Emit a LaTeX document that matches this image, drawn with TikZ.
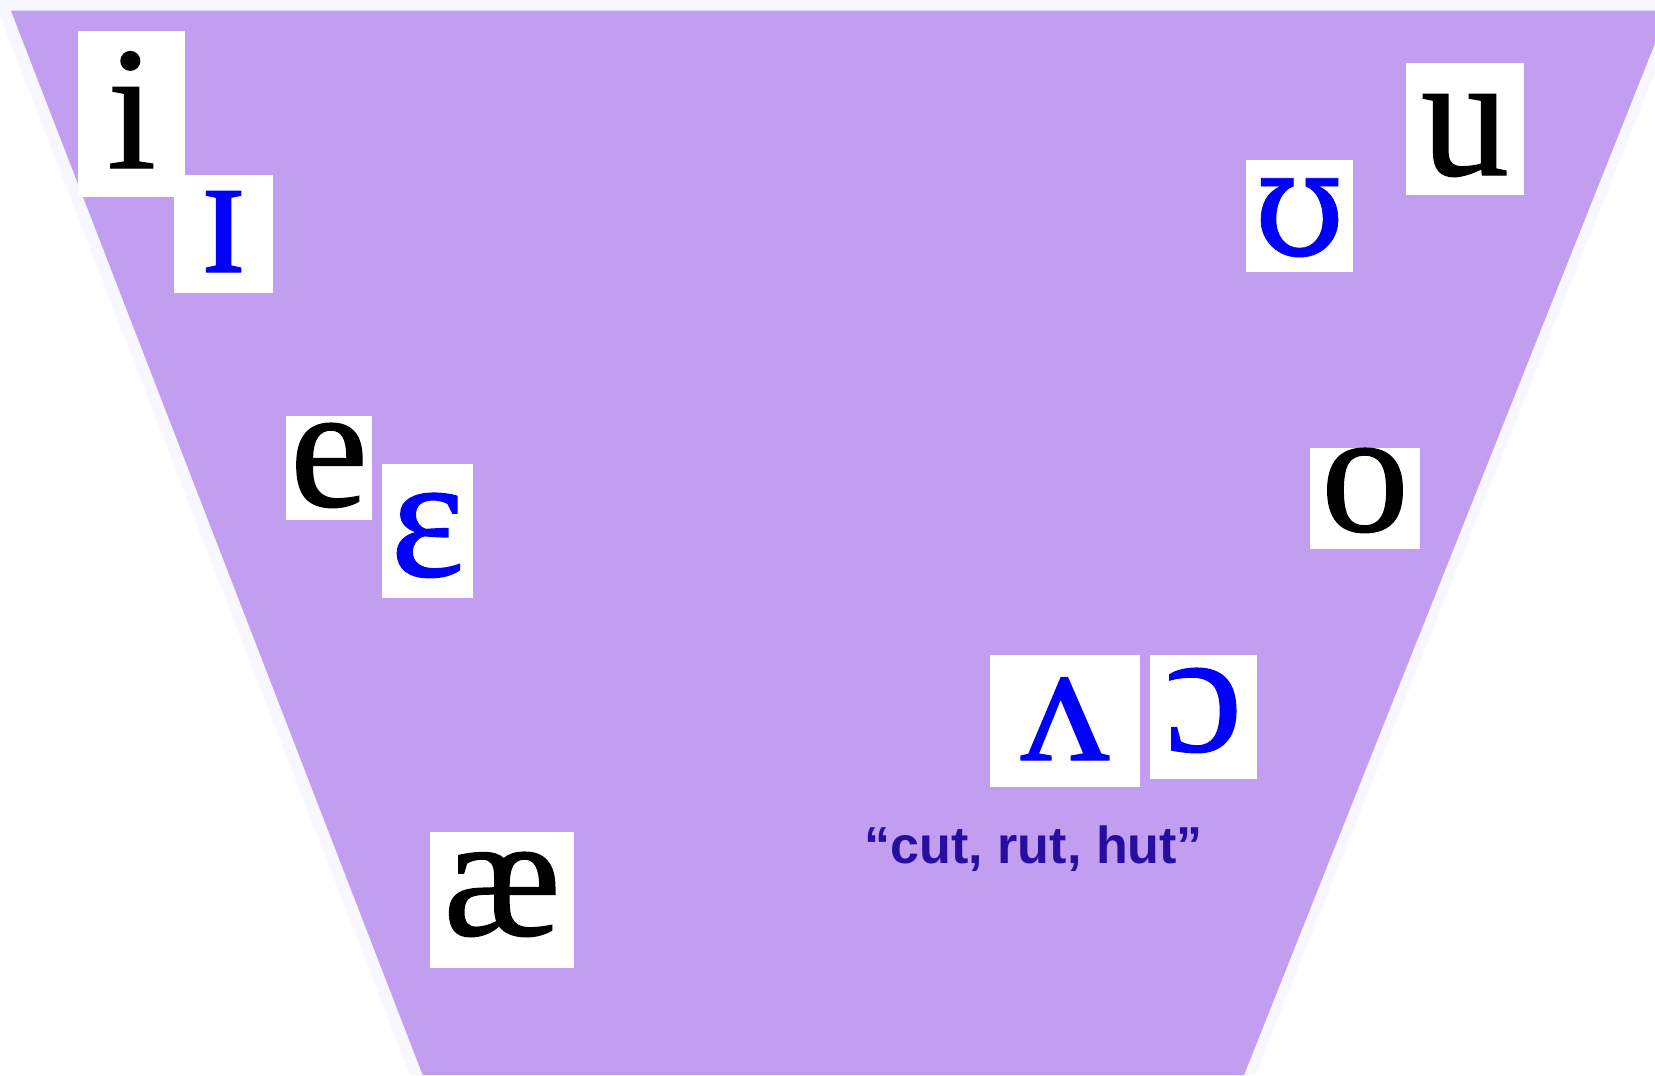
\documentclass[tikz,border=0pt]{standalone}
\usepackage{fontspec}
\setmainfont{Liberation Serif}
\setsansfont{Liberation Sans}
\newfontfamily\vowelfont[FakeBold=0.8]{Liberation Serif}
\newfontfamily\upsilonfont[FakeBold=0.5]{DejaVu Serif}
\usepackage{xcolor}
\usetikzlibrary{positioning}

\definecolor{chartpurple}{RGB}{193,158,239}
\definecolor{chartedge}{RGB}{248,246,255}
\definecolor{notecolor}{RGB}{40,14,160}
\definecolor{laxblue}{RGB}{0,0,255}

\begin{document}
\begin{tikzpicture}[
      x=0.01cm, y=-0.01cm,
      vowel/.style={rectangle, fill=white, inner sep=0pt, anchor=base, font=\vowelfont\fontsize{50}{50}\selectfont, text centered},
      tense/.style={vowel, text=black},
      lax/.style={vowel, text=laxblue},
      note/.style={anchor=base west, inner sep=0pt, text=notecolor, font=\sffamily\bfseries\fontsize{14.8}{16}\selectfont}
  ]
      \useasboundingbox (0,0) rectangle (1655,1075);
      \clip (0,0) rectangle (1655,1075);

      % Vowel space
      \fill[chartedge] (-6,0) -- (1684,0) -- (1255,1075) -- (410,1075) -- cycle;
      \fill[chartpurple] (11,10.7) -- (1668,10.7) -- (1244,1075) -- (422.7,1075) -- cycle;

      % Front vowels
      \node[tense, minimum width=1.07cm, text height=1.37cm, text depth=0.29cm] (i) at (131.5,168) {i};
      \node[lax, minimum width=0.99cm, text height=0.97cm, text depth=0.21cm] (I) at (223.5,272) {ɪ};
      \node[tense, minimum width=0.86cm, text height=0.90cm, text depth=0.14cm] (e) at (329,506) {e};
      \node[lax, minimum width=0.91cm, text height=1.12cm, text depth=0.22cm] (E) at (427.5,576) {ɛ};
      \node[tense, minimum width=1.44cm, text height=1.03cm, text depth=0.33cm] (ae) at (502,935) {æ};

      % Back vowels
      \node[tense, minimum width=1.18cm, text height=1.12cm, text depth=0.20cm] (u) at (1465,175) {u};
      \node[lax, minimum width=1.07cm, text height=0.95cm, text depth=0.17cm, font=\upsilonfont\fontsize{42}{42}\selectfont] (U) at (1299.5,255) {ʊ};
      \node[tense, minimum width=1.10cm, text height=0.83cm, text depth=0.18cm] (o) at (1365,531) {o};
      \node[lax, minimum width=1.50cm, text height=1.05cm, text depth=0.27cm] (V) at (1065,760) {ʌ};
      \node[lax, minimum width=1.07cm, text height=0.96cm, text depth=0.28cm] (O) at (1203.5,751) {ɔ};

      % Example words
      \node[note] (words) at (864,863) {“cut, rut, hut”};
  \end{tikzpicture}
\end{document}
